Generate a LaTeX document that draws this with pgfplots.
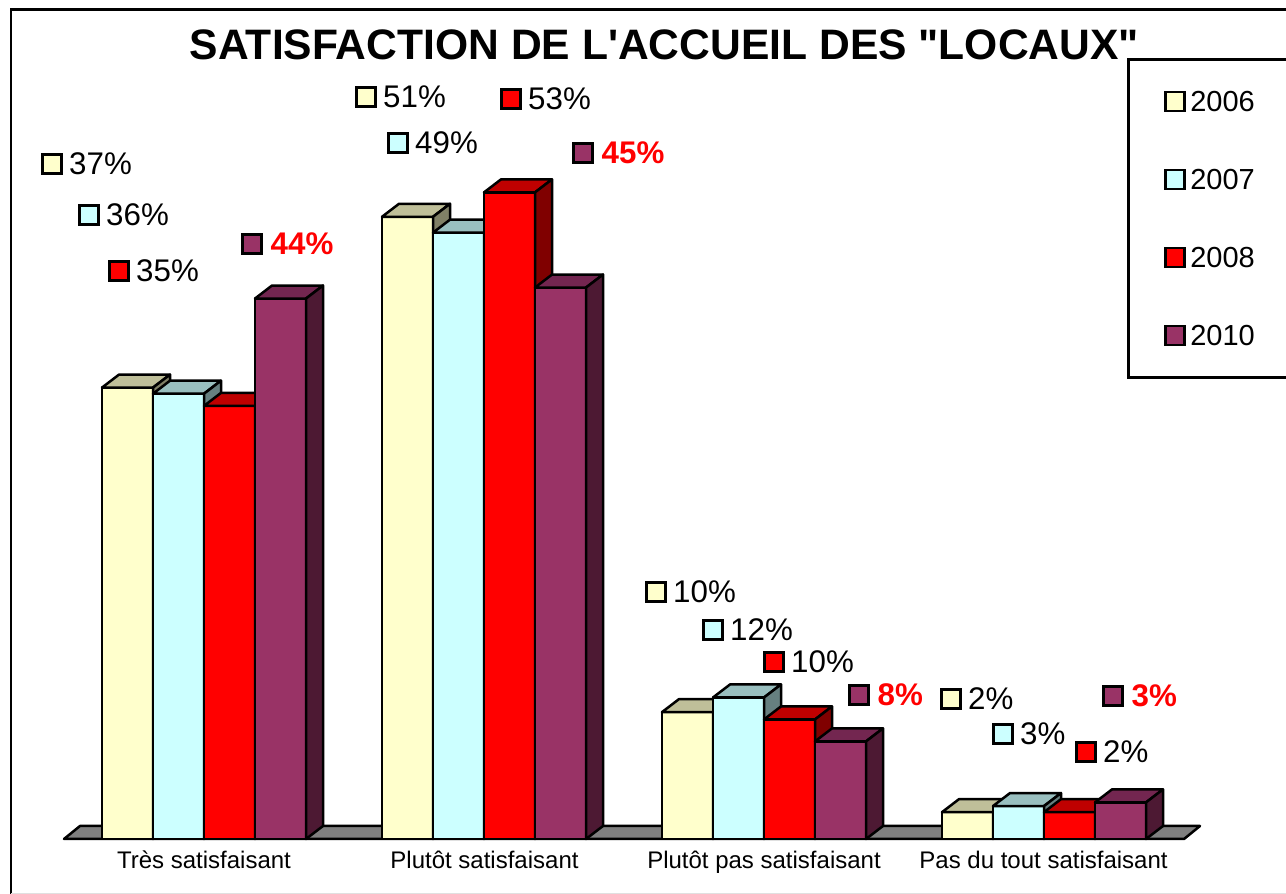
\documentclass[border=0pt]{standalone}
\usepackage{pgfplots}
\pgfplotsset{compat=1.18}
\usepackage{fontspec}
\setmainfont{Liberation Sans}[Ligatures=TeXOff]
\definecolor{aF}{HTML}{FFFFCC}\definecolor{aT}{HTML}{BFBF99}\definecolor{aS}{HTML}{808066}
\definecolor{bF}{HTML}{CCFFFF}\definecolor{bT}{HTML}{99BFBF}\definecolor{bS}{HTML}{668080}
\definecolor{cF}{HTML}{FF0000}\definecolor{cT}{HTML}{BF0000}\definecolor{cS}{HTML}{800000}
\definecolor{dF}{HTML}{993366}\definecolor{dT}{HTML}{732650}\definecolor{dS}{HTML}{4D1933}
% one 3-D bar: left x (px), value (%), colour prefix
\newcommand{\tdbar}[3]{%
  \pgfmathsetmacro{\xr}{#1+51}\pgfmathsetmacro{\xa}{#1+17}\pgfmathsetmacro{\xb}{#1+68}%
  \pgfmathsetmacro{\yt}{#2+1.066}%
  \addplot[draw=black,line width=2.5pt,line join=round,fill=#3F] coordinates {(#1,0) (#1,#2) (\xr,#2) (\xr,0)} --cycle;
  \addplot[draw=black,line width=2.5pt,line join=round,fill=#3T] coordinates {(#1,#2) (\xa,\yt) (\xb,\yt) (\xr,#2)} --cycle;
  \addplot[draw=black,line width=2.5pt,line join=round,fill=#3S] coordinates {(\xr,#2) (\xb,\yt) (\xb,1.066) (\xr,0)} --cycle;
}
% data label: key square centre x, y (px from top), colour, text, text style
\newcommand{\lab}[5]{%
  \pgfmathsetmacro{\yy}{(839-#2)/12.2}%
  \addplot[only marks,mark=square*,mark size=9.5pt,mark options={draw=black,line width=2.5pt,fill=#3F}] coordinates {(#1,\yy)};
  \node[anchor=west,inner sep=0pt,font=\fontsize{31.3}{33}\selectfont#5] at (axis cs:#1+17,{(839-#2)/12.2}) {#4};
}
\begin{document}
\begin{tikzpicture}
\useasboundingbox (0,-55pt) rectangle (1286pt,839pt);
\begin{axis}[
  scale only axis,width=1286pt,height=839pt,
  xmin=0,xmax=1286,ymin=0,ymax=68.77,
  clip=false,
  axis line style={draw=none},major tick length=0pt,
  ytick=\empty,xtick={204,484.5,764,1043.5},
  xticklabels={Très satisfaisant,Plutôt satisfaisant,Plutôt pas satisfaisant,Pas du tout satisfaisant},
  xticklabel style={font=\fontsize{24}{26}\selectfont,anchor=center,yshift=-21pt,text height=18pt,text depth=0pt},
  title={SATISFACTION DE L'ACCUEIL DES "LOCAUX"},
  title style={at={(axis cs:664.5,64.6)},anchor=center,font=\fontsize{42.6}{46}\selectfont\bfseries},
  legend cell align=left,
  legend style={at={(axis cs:1127,64)},anchor=north west,draw=black,line width=2.5pt,
    inner xsep=37pt,inner ysep=31pt,row sep=56pt,column sep=6pt,
    nodes={inner sep=0pt,text height=21pt,text depth=1pt,font=\fontsize{29}{31}\selectfont,line width=2.5pt}},
  legend image code/.code={\draw[#1] plot coordinates {(0pt,0pt)};},
]
\addlegendimage{only marks,mark=square*,mark size=9.5pt,mark options={draw=black,line width=2.5pt,fill=aF}}
\addlegendentry{2006}
\addlegendimage{only marks,mark=square*,mark size=9.5pt,mark options={draw=black,line width=2.5pt,fill=bF}}
\addlegendentry{2007}
\addlegendimage{only marks,mark=square*,mark size=9.5pt,mark options={draw=black,line width=2.5pt,fill=cF}}
\addlegendentry{2008}
\addlegendimage{only marks,mark=square*,mark size=9.5pt,mark options={draw=black,line width=2.5pt,fill=dF}}
\addlegendentry{2010}
% frame
\draw[line width=2.5pt] (axis cs:11,-5) -- (axis cs:11,68) -- (axis cs:1290,68);
\draw[line width=1pt,black!12] (axis cs:11,-4.5) -- (axis cs:1290,-4.5);
% floor
\addplot[draw=black,line width=2.5pt,line join=round,fill=gray] coordinates {(64,0) (80,1.066) (1200,1.066) (1184,0)} --cycle;
% bars
\tdbar{102}{37.0}{a}\tdbar{153}{36.5}{b}\tdbar{204}{35.5}{c}\tdbar{255}{44.3}{d}
\tdbar{382}{51.0}{a}\tdbar{433}{49.7}{b}\tdbar{484}{53.0}{c}\tdbar{535}{45.2}{d}
\tdbar{662}{10.4}{a}\tdbar{713}{11.6}{b}\tdbar{764}{9.8}{c}\tdbar{815}{8.0}{d}
\tdbar{942}{2.2}{a}\tdbar{993}{2.7}{b}\tdbar{1044}{2.2}{c}\tdbar{1095}{3.0}{d}
% labels
\lab{52}{164}{a}{37\%}{}\lab{89}{215}{b}{36\%}{}\lab{119}{271}{c}{35\%}{}
\lab{252}{244}{d}{\hspace*{1.5pt}\textcolor{red}{44\%}}{\bfseries}
\lab{366}{97}{a}{51\%}{}\lab{398}{143}{b}{49\%}{}\lab{511}{99}{c}{53\%}{}
\lab{583}{153}{d}{\hspace*{1.5pt}\textcolor{red}{45\%}}{\bfseries}
\lab{656}{592}{a}{10\%}{}\lab{713}{630}{b}{12\%}{}\lab{774}{662}{c}{10\%}{}
\lab{859}{695}{d}{\hspace*{1.5pt}\textcolor{red}{8\%}}{\bfseries}
\lab{951}{699}{a}{2\%}{}\lab{1003}{734}{b}{3\%}{}\lab{1086}{752}{c}{2\%}{}
\lab{1113}{696}{d}{\hspace*{1.5pt}\textcolor{red}{3\%}}{\bfseries}
\end{axis}
\end{tikzpicture}
\end{document}
